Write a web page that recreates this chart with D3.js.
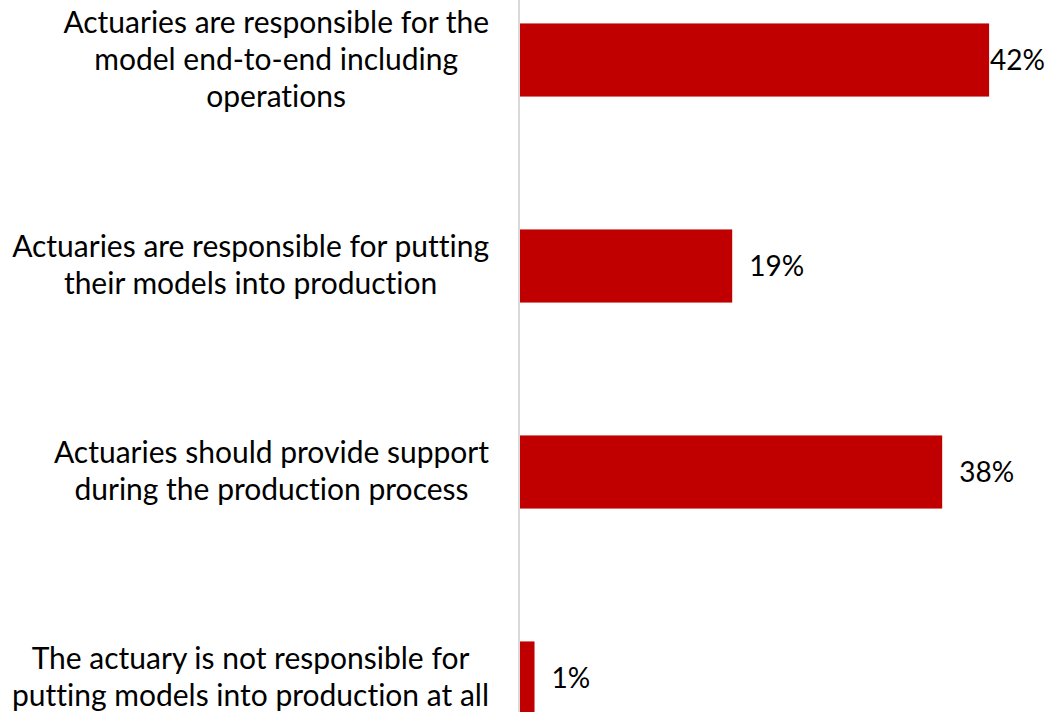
<!DOCTYPE html>
<html>
<head>
<meta charset="utf-8">
<script src="https://cdn.jsdelivr.net/npm/d3@7"></script>
<style>
  body { margin: 0; background: #fff; }
  svg text { font-family: Lato, "Open Sans", sans-serif; fill: #000; font-variant-ligatures: none; }
</style>
</head>
<body>
<svg id="chart" width="1060" height="712"></svg>
<script>
// categories (one line per entry as laid out in the chart)
var categories = [
    ["Actuaries are responsible for the", "model end-to-end including", "operations"],
    ["Actuaries are responsible for putting", "their models into production"],
    ["Actuaries should provide support", "during the production process"],
    ["The actuary is not responsible for", "putting models into production at all"]
];
var values = [42, 19, 37.8, 1.3];
var valueLabels = ["42%", "19%", "38%", "1%"];

var svg = d3.select("#chart");
var keys = categories.map(function (c) { return c.join(" "); });

var x = d3.scaleLinear().domain([0, 45]).range([520, 1022.6]);
var y = d3.scaleBand().domain(keys).range([-43, 781])
    .paddingInner(0.645).paddingOuter(0.3225);

// bars
svg.append("g").selectAll("rect")
    .data(values)
    .enter().append("rect")
    .attr("x", x(0))
    .attr("y", function (d, i) { return y(keys[i]); })
    .attr("width", function (d) { return x(d) - x(0); })
    .attr("height", y.bandwidth())
    .attr("fill", "#c00000");

// vertical axis line
var axis = svg.append("g")
    .attr("transform", "translate(" + (x(0) - 1) + ",0)")
    .call(d3.axisLeft(y).tickSize(0).tickFormat(""));
axis.select(".domain").attr("stroke", "#d9d9d9").attr("stroke-width", 2)
    .attr("d", "M0,-50V800");

// value labels
var valG = svg.append("g");
values.forEach(function (v, i) {
    var t = valG.append("text")
        .attr("y", y(keys[i]) + y.bandwidth() / 2)
        .attr("dy", "0.35em")
        .style("font-size", "28px")
        .text(valueLabels[i]);
    var w = t.node().getComputedTextLength();
    var lx = Math.min(x(v) + 17, 1045 - w);
    t.attr("x", Math.max(lx, x(v) + 1));
});

// category labels: block right edge at 489, lines centred within block
var lineH = 37;
var labG = svg.append("g");
categories.forEach(function (lines, i) {
    var t = labG.append("text")
        .style("font-size", "30px")
        .attr("text-anchor", "middle");
    var cy = y(keys[i]) + y.bandwidth() / 2 - 1;
    var top = cy - (lines.length - 1) * lineH / 2;
    var spans = lines.map(function (ln, j) {
        return t.append("tspan").attr("y", top + j * lineH).attr("dy", "0.35em").text(ln);
    });
    var maxW = d3.max(spans, function (s) { return s.node().getComputedTextLength(); });
    spans.forEach(function (s) { s.attr("x", 489 - maxW / 2); });
});
</script>
</body>
</html>
